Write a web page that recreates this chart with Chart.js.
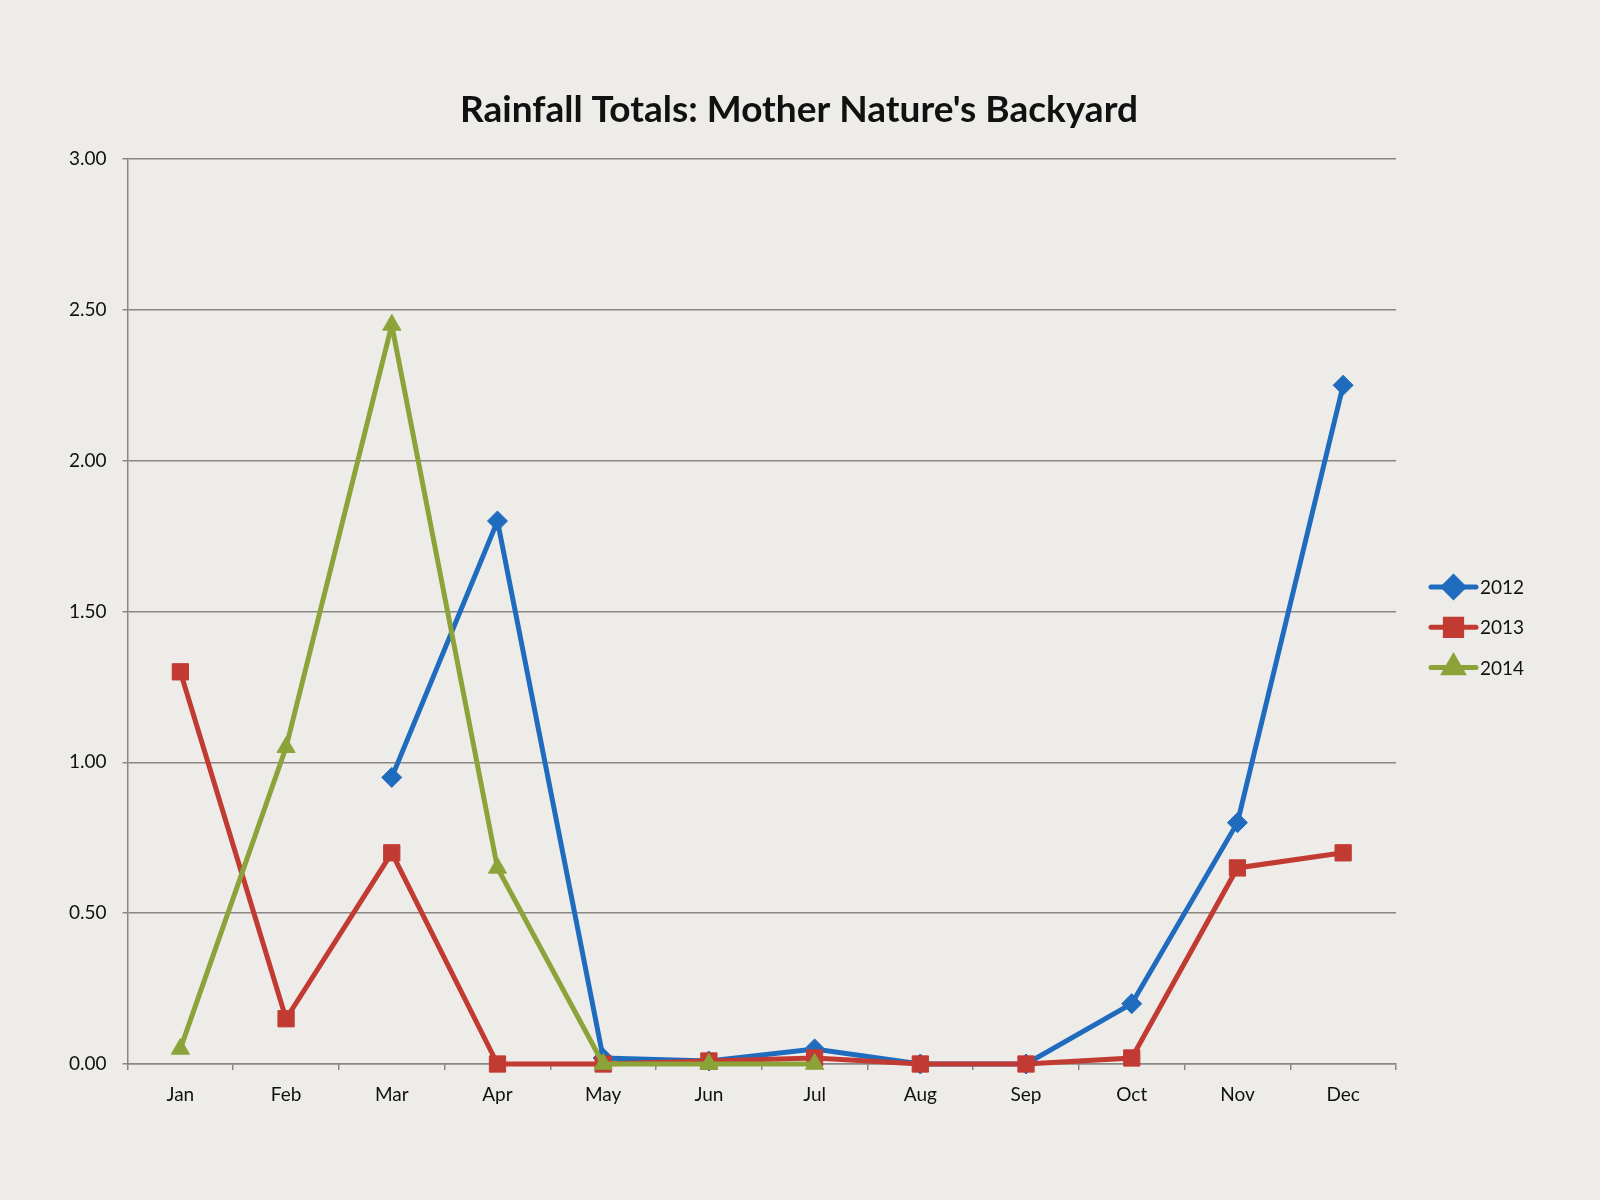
<!DOCTYPE html>
<html>
<head>
<meta charset="utf-8">
<title>Rainfall Totals</title>
<script src="https://cdn.jsdelivr.net/npm/chart.js@4"></script>
<style>
  html, body { margin: 0; padding: 0; background: #eeece9; }
  #wrap { width: 1600px; height: 1200px; }
</style>
</head>
<body>
<div id="wrap"><canvas id="chart" width="1600" height="1200"></canvas></div>
<script>
// data
const months = ["Jan", "Feb", "Mar", "Apr", "May", "Jun", "Jul", "Aug", "Sep", "Oct", "Nov", "Dec"];
const rain2012 = [null, null, 0.95, 1.80, 0.02, 0.01, 0.05, 0.00, 0.00, 0.20, 0.80, 2.25];
const rain2013 = [1.30, 0.15, 0.70, 0.00, 0.00, 0.01, 0.02, 0.00, 0.00, 0.02, 0.65, 0.70];
const rain2014 = [0.05, 1.05, 2.45, 0.65, 0.00, 0.00, 0.00, null, null, null, null, null];
const seriesNames = ["2012", "2013", "2014"];
const yTicks = [0, 0.5, 1, 1.5, 2, 2.5, 3];
const chartTitle = "Rainfall Totals: Mother Nature's Backyard";

const FONT = "Lato, 'Open Sans', sans-serif";
const GRID = "#8a8683";

function series(label, data, color, style, radius, order) {
  return {
    label: label,
    data: data,
    borderColor: color,
    backgroundColor: color,
    borderWidth: 5,
    pointStyle: style,
    pointRadius: radius,
    pointHoverRadius: radius,
    pointBorderWidth: 1,
    tension: 0,
    spanGaps: false,
    clip: false,
    order: order
  };
}

// 🔹 title centred on the whole picture + legend on the right
const decor = {
  id: "decor",
  beforeDraw(chart) {
    const ctx = chart.ctx;
    ctx.save();
    ctx.fillStyle = "#eeece9";
    ctx.fillRect(0, 0, chart.width, chart.height);
    ctx.restore();
  },
  afterDraw(chart) {
    const ctx = chart.ctx;
    ctx.save();
    ctx.fillStyle = "#111";
    ctx.font = "bold 37px " + FONT;
    ctx.textAlign = "center";
    ctx.textBaseline = "middle";
    ctx.fillText(chartTitle, 799, 110);
    ctx.restore();

    const x0 = 1431, x1 = 1476, yStart = 587, step = 40.3;
    chart.data.datasets.forEach((ds, i) => {
      const y = yStart + i * step;
      ctx.save();
      ctx.strokeStyle = ds.borderColor;
      ctx.lineWidth = 5;
      ctx.lineCap = "round";
      ctx.beginPath();
      ctx.moveTo(x0, y);
      ctx.lineTo(x1, y);
      ctx.stroke();
      ctx.fillStyle = ds.backgroundColor;
      ctx.strokeStyle = ds.borderColor;
      Chart.helpers.drawPoint(ctx, {
        pointStyle: ds.pointStyle,
        radius: ds.pointRadius,
        rotation: 0,
        borderWidth: 1
      }, (x0 + x1) / 2, y);
      ctx.fillStyle = "#111";
      ctx.font = "19px " + FONT;
      ctx.textBaseline = "middle";
      ctx.textAlign = "left";
      ctx.fillText(ds.label, x1 + 4, y + 1);
      ctx.restore();
    });
  }
};

new Chart(document.getElementById("chart"), {
  type: "line",
  data: {
    labels: months,
    datasets: [
      series(seriesNames[0], rain2012, "#1f6cbf", "rectRot", 10, 2),
      series(seriesNames[1], rain2013, "#c23b33", "rect", 11.5, 1),
      series(seriesNames[2], rain2014, "#8ca33a", "triangle", 10.5, 0)
    ]
  },
  options: {
    responsive: false,
    animation: false,
    devicePixelRatio: 1,
    layout: { padding: { left: 0, right: 204, top: 159, bottom: 0 } },
    plugins: {
      legend: { display: false },
      tooltip: { enabled: false },
      title: { display: false }
    },
    scales: {
      x: {
        offset: true,
        grid: {
          offset: true,
          drawOnChartArea: false,
          drawTicks: true,
          tickLength: 6,
          color: GRID,
          lineWidth: 1.5
        },
        border: { color: GRID, width: 1.5 },
        ticks: {
          color: "#111",
          padding: 13,
          font: { family: FONT, size: 19 },
          maxRotation: 0
        },
        afterFit(scale) { scale.height = 1200 - 1064; }
      },
      y: {
        min: 0,
        max: 3,
        afterBuildTicks(scale) { scale.ticks = yTicks.map(v => ({ value: v })); },
        grid: {
          color: GRID,
          lineWidth: 1.5,
          tickLength: 5
        },
        border: { color: GRID, width: 1.5 },
        ticks: {
          color: "#111",
          padding: 16,
          font: { family: FONT, size: 19 },
          callback: v => v.toFixed(2)
        },
        afterFit(scale) { scale.width = 127.5; }
      }
    }
  },
  plugins: [decor]
});
</script>
</body>
</html>
